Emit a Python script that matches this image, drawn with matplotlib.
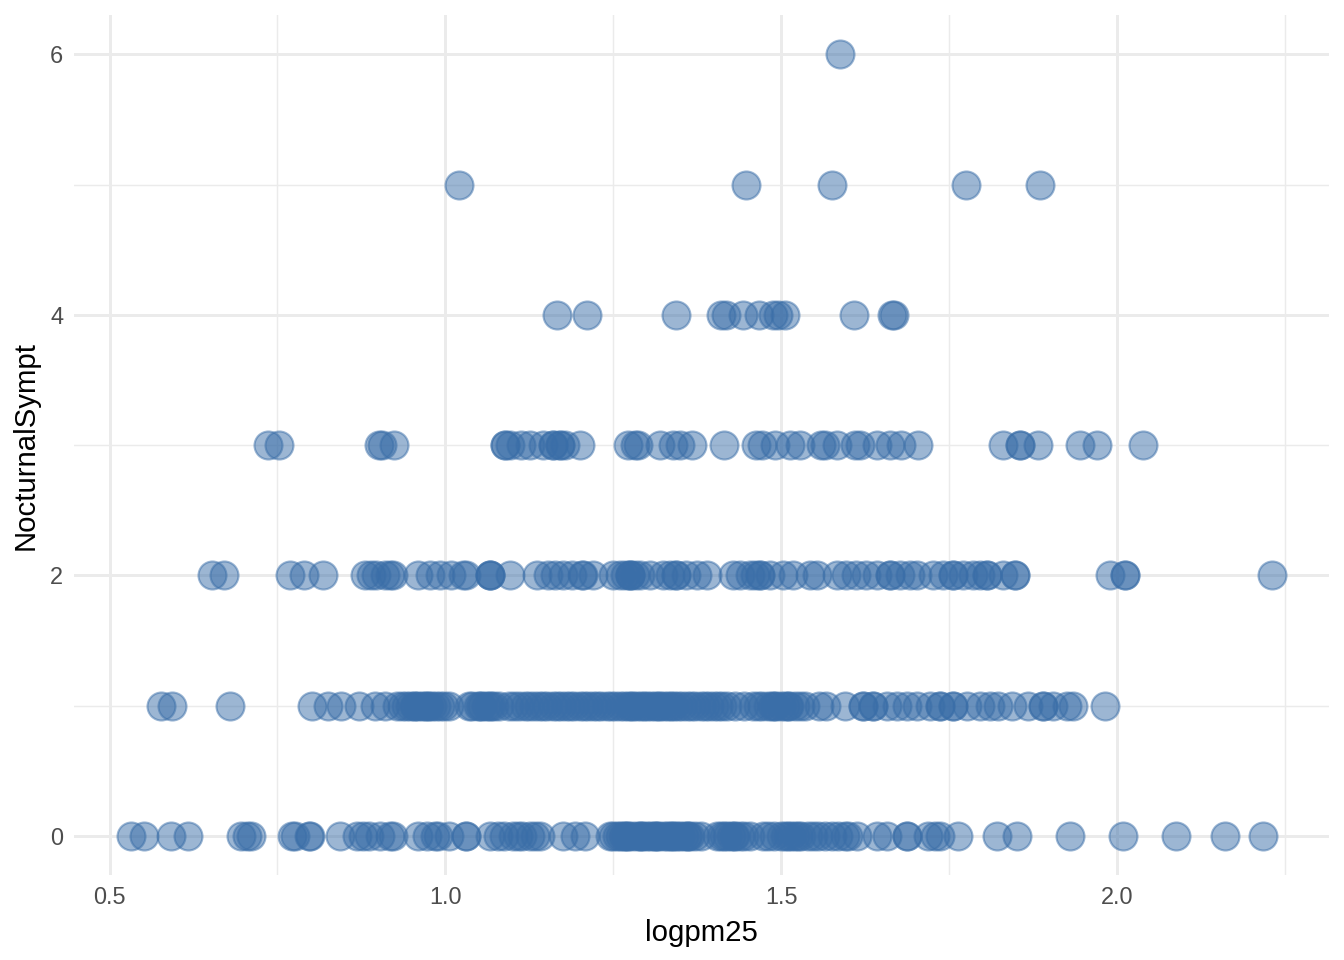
import matplotlib
matplotlib.use("Agg")
import matplotlib.pyplot as plt
import numpy as np

plt.rcParams['font.family'] = ['Liberation Sans', 'DejaVu Sans']

# logpm25 values for each NocturnalSympt level
sympt0 = [0.532, 0.551, 0.591, 0.617, 0.696, 0.704, 0.711, 0.771, 0.776, 0.797, 0.798,
          0.843, 0.868, 0.877, 0.887, 0.902, 0.917, 0.922, 0.959, 0.972, 0.984, 0.989,
          1.006, 1.031, 1.031, 1.066, 1.078, 1.088, 1.101, 1.108, 1.114, 1.126, 1.133,
          1.141, 1.175, 1.193, 1.208, 1.245,
          1.250, 1.255, 1.260, 1.265, 1.270, 1.272, 1.278, 1.285, 1.290, 1.295, 1.300,
          1.305, 1.310, 1.312, 1.318, 1.325, 1.330, 1.335, 1.340, 1.345, 1.350, 1.355,
          1.360, 1.365, 1.372, 1.380, 1.268, 1.292, 1.315, 1.338, 1.362,
          1.404, 1.410, 1.415, 1.420, 1.425, 1.430, 1.432, 1.438, 1.445, 1.453,
          1.473, 1.480, 1.490, 1.500, 1.505, 1.510, 1.515, 1.520, 1.525, 1.530, 1.540,
          1.548, 1.555, 1.565, 1.575, 1.585, 1.595, 1.600, 1.613,
          1.643, 1.657, 1.687, 1.687, 1.719, 1.729, 1.736, 1.763, 1.821, 1.851, 1.930,
          2.009, 2.088, 2.161, 2.218]

sympt1 = [0.577, 0.593, 0.680, 0.802, 0.826, 0.844, 0.871, 0.896, 0.910,
          0.928, 0.935, 0.942, 0.948, 0.953, 0.960, 0.965, 0.970, 0.975, 0.980, 0.986,
          0.992, 0.998, 1.005, 0.955, 0.972,
          1.035, 1.040, 1.048, 1.055, 1.060, 1.065, 1.072, 1.080, 1.095, 1.102, 1.110,
          1.118, 1.125, 1.132, 1.140, 1.052, 1.068,
          1.146, 1.152, 1.160, 1.166, 1.172, 1.180, 1.186, 1.192, 1.200, 1.206, 1.212,
          1.220, 1.226, 1.232, 1.240, 1.246, 1.252, 1.260, 1.266, 1.272, 1.280, 1.286,
          1.292, 1.300, 1.306, 1.312, 1.320, 1.326, 1.332, 1.340, 1.346, 1.352, 1.360,
          1.366, 1.372, 1.380, 1.386, 1.392, 1.400, 1.406, 1.412, 1.420, 1.432, 1.445,
          1.458, 1.466, 1.472, 1.480, 1.486, 1.492, 1.500, 1.506, 1.512, 1.520, 1.528,
          1.535, 1.557, 1.567, 1.276, 1.296, 1.316, 1.336, 1.490, 1.510,
          1.595, 1.622, 1.622, 1.637, 1.637, 1.657, 1.672, 1.687, 1.702, 1.721, 1.736,
          1.736, 1.756, 1.756, 1.776, 1.796, 1.811, 1.823, 1.843, 1.867, 1.890, 1.890,
          1.905, 1.926, 1.935, 1.982]

sympt2 = [0.653, 0.670, 0.768, 0.790, 0.818, 0.880, 0.890, 0.897, 0.910, 0.917, 0.922,
          0.959, 0.977, 0.992, 1.009, 1.026, 1.031, 1.066, 1.066, 1.066, 1.096, 1.136,
          1.153, 1.163, 1.175, 1.188, 1.203, 1.205, 1.220,
          1.249, 1.260, 1.267, 1.275, 1.275, 1.275, 1.282, 1.290, 1.304, 1.324, 1.334,
          1.344, 1.344, 1.359, 1.374, 1.389,
          1.428, 1.438, 1.453, 1.461, 1.468, 1.468, 1.483, 1.503, 1.517, 1.543, 1.553,
          1.583, 1.597, 1.612, 1.627, 1.642, 1.662, 1.662, 1.677, 1.692, 1.702, 1.726,
          1.741, 1.756, 1.756, 1.771, 1.786, 1.796, 1.806, 1.806, 1.831, 1.848, 1.848,
          1.990, 2.012, 2.012, 2.231]

sympt3 = [0.736, 0.753, 0.901, 0.906, 0.923, 1.089, 1.089, 1.096, 1.112, 1.126, 1.145,
          1.160, 1.160, 1.170, 1.170, 1.178, 1.200, 1.272, 1.282, 1.287, 1.319, 1.339,
          1.349, 1.367, 1.415, 1.463, 1.471, 1.491, 1.513, 1.528, 1.560, 1.565, 1.583,
          1.610, 1.618, 1.642, 1.662, 1.679, 1.703, 1.831, 1.856, 1.856, 1.883, 1.945,
          1.970, 2.039]

sympt4 = [1.166, 1.211, 1.344, 1.410, 1.418, 1.443, 1.467, 1.488, 1.495, 1.506, 1.608,
          1.665, 1.668]

sympt5 = [1.020, 1.447, 1.576, 1.775, 1.885]

sympt6 = [1.587]

levels = [sympt0, sympt1, sympt2, sympt3, sympt4, sympt5, sympt6]

x = np.concatenate([np.array(v) for v in levels])
y = np.concatenate([np.full(len(v), i) for i, v in enumerate(levels)])

fig = plt.figure(figsize=(7, 5), dpi=192)
ax = fig.add_axes([0.055, 0.0885, 0.934, 0.8955])

ax.scatter(x, y, s=110, color='#3A6EA8', alpha=0.5, edgecolors='#3A6EA8',
           linewidths=0.8, zorder=3)

ax.set_xlim(0.447, 2.316)
ax.set_ylim(-0.3, 6.3)
ax.set_xticks([0.5, 1.0, 1.5, 2.0])
ax.set_xticklabels(['0.5', '1.0', '1.5', '2.0'])
ax.set_xticks([0.75, 1.25, 1.75, 2.25], minor=True)
ax.set_yticks([0, 2, 4, 6])
ax.set_yticks([1, 3, 5], minor=True)

ax.grid(which='major', color='#EBEBEB', linewidth=1.1)
ax.grid(which='minor', color='#EBEBEB', linewidth=0.55)
ax.set_axisbelow(True)
for sp in ax.spines.values():
    sp.set_visible(False)
ax.tick_params(which='both', length=0)
ax.tick_params(axis='both', labelsize=8.8, labelcolor='#4D4D4D', pad=4)

ax.set_xlabel('logpm25', fontsize=11, labelpad=4)
ax.set_ylabel('NocturnalSympt', fontsize=11, labelpad=4)

fig.savefig('out.png', dpi=192, facecolor='white')
plt.close()
